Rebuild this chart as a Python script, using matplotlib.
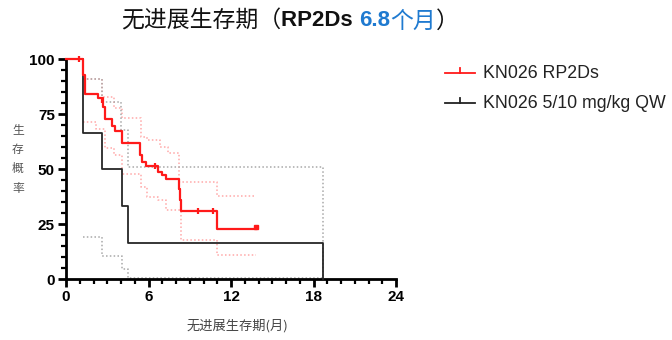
import matplotlib
matplotlib.use("Agg")
import matplotlib.pyplot as plt
from matplotlib.lines import Line2D
from matplotlib.ticker import MultipleLocator

# ---- data ----
red_t = [0, 1.2, 1.4, 2.3, 2.7, 2.8, 3.35, 3.55, 4.1, 5.4, 5.55, 5.8, 6.7, 6.95, 7.3, 8.2, 8.3, 8.35, 10.95, 13.8]
red_s = [100, 92.9, 84.1, 82.3, 78.5, 72.7, 69.7, 67.5, 62.1, 56.5, 53.5, 51.5, 49.0, 47.5, 45.5, 41.0, 36.0, 31.1, 23.0, 23.0]
red_cens_t = [0.92, 2.6, 6.5, 9.6, 10.7]
red_cens_s = [100, 81.5, 51.5, 31.1, 31.1]
red_last_t = [13.8]
red_last_s = [23.6]

red_up_t = [1.2, 2.6, 3.5, 4.1, 5.45, 5.9, 6.8, 7.4, 8.24, 10.95, 13.8]
red_up_s = [91.0, 82.7, 77.7, 73.2, 64.8, 63.3, 60.3, 57.6, 44.4, 37.9, 37.9]
red_lo_t = [1.25, 2.2, 2.8, 3.5, 4.1, 5.45, 5.9, 6.7, 7.3, 8.35, 10.95, 13.8]
red_lo_s = [71.7, 68.2, 59.5, 56.5, 47.9, 42.1, 37.6, 36.0, 31.5, 17.9, 11.1, 11.1]

blk_t = [0, 1.2, 2.6, 4.07, 4.5, 18.7]
blk_s = [100, 66.7, 50.0, 33.3, 16.7, 0]
gry_up_t = [1.2, 2.65, 4.0, 4.48, 18.7]
gry_up_s = [91.0, 80.7, 67.9, 51.2, 0]
gry_lo_t = [1.2, 2.65, 4.07, 4.5, 18.7]
gry_lo_s = [19.4, 10.6, 4.5, 0.8, 0.8]

x_ticks = [0, 6, 12, 18, 24]
y_ticks = [0, 25, 50, 75, 100]
legend_labels = ["KN026 RP2Ds", "KN026 5/10 mg/kg QW"]

RED = "#ff1a1a"
PINK = "#ffa8a8"
GRAY = "#a8a8a8"
BLUE = "#1f7ad0"
CJK = ["Noto Sans CJK SC", "DejaVu Sans"]
SANS = ["Liberation Sans", "DejaVu Sans"]

fig = plt.figure(figsize=(6.72, 3.4), dpi=100)
ax = fig.add_axes([66/672, 1-279.3/340, 330/672, 220/340])

# CI lines
dots = (0, (1, 1.5))
ax.step(red_up_t, red_up_s, where="post", color=PINK, lw=1.1, ls=dots, clip_on=False)
ax.step(red_lo_t, red_lo_s, where="post", color=PINK, lw=1.1, ls=dots, clip_on=False)
ax.step(gry_up_t, gry_up_s, where="post", color=GRAY, lw=1.1, ls=dots, clip_on=False)
ax.step(gry_lo_t, gry_lo_s, where="post", color=GRAY, lw=1.1, ls=dots, clip_on=False)

# KM curves
ax.step(blk_t, blk_s, where="post", color="#262626", lw=1.3, clip_on=False, zorder=3)
ax.step(red_t, red_s, where="post", color=RED, lw=1.6, clip_on=False, zorder=4)
ax.plot(red_cens_t, red_cens_s, ls="none", marker="|", ms=4.5, mew=1.6, color=RED, clip_on=False, zorder=5)
ax.plot(red_last_t, red_last_s, ls="none", marker="s", ms=3.5, color=RED, clip_on=False, zorder=5)

ax.set_xlim(0, 24)
ax.set_ylim(0, 100)
ax.set_xticks(x_ticks)
ax.set_yticks(y_ticks)
ax.xaxis.set_minor_locator(MultipleLocator(1))
ax.yaxis.set_minor_locator(MultipleLocator(5))
for s in ["top", "right"]:
    ax.spines[s].set_visible(False)
for s in ["left", "bottom"]:
    ax.spines[s].set_linewidth(2)
ax.tick_params(which="major", direction="out", length=6, width=2, pad=2)
ax.tick_params(which="minor", direction="out", length=3.5, width=1.6)
for lab in ax.get_xticklabels() + ax.get_yticklabels():
    lab.set_fontfamily(SANS)
    lab.set_fontweight("bold")
    lab.set_fontsize(11)

# axis labels
fig.text(18/672, 1-159/340, "生\n存\n概\n率", family=CJK, fontsize=8.5, color="#555555",
         ha="center", va="center", linespacing=1.65)
fig.text(237/672, 1-326/340, "无进展生存期(月)", family=CJK, fontsize=9.5, color="#444444",
         ha="center", va="center")

# title with mixed styles
t1 = fig.text(121/672, 1-21/340, "无进展生存期（", family=CJK, fontsize=16.5, color="#111111",
              ha="left", va="center")
t2 = ax.annotate("RP2Ds ", xy=(1, 0.5), xycoords=t1, va="center", ha="left",
                 family=SANS, fontweight="bold", fontsize=16, color="#111111")
t3 = ax.annotate("6.8", xy=(1, 0.5), xycoords=t2, va="center", ha="left",
                 family=SANS, fontweight="bold", fontsize=16, color=BLUE)
t4 = ax.annotate("个月", xy=(1, 0.5), xycoords=t3, va="center", ha="left",
                 family=CJK, fontsize=16.5, color=BLUE)
t5 = ax.annotate("）", xy=(1, 0.5), xycoords=t4, va="center", ha="left",
                 family=CJK, fontsize=16.5, color="#111111")

# legend (manual)
leg_y = [1-73/340, 1-103/340]
leg_c = [RED, "#222222"]
for yy, cc, lab in zip(leg_y, leg_c, legend_labels):
    fig.add_artist(Line2D([445/672, 475/672], [yy, yy], transform=fig.transFigure, color=cc, lw=1.3))
    fig.add_artist(Line2D([460/672, 460/672], [yy, yy+5/340], transform=fig.transFigure, color=cc, lw=1.3))
    fig.text(483/672, yy, lab, family=SANS, fontsize=12.8, color="#222222", ha="left", va="center")

fig.savefig("out.png", dpi=100)
